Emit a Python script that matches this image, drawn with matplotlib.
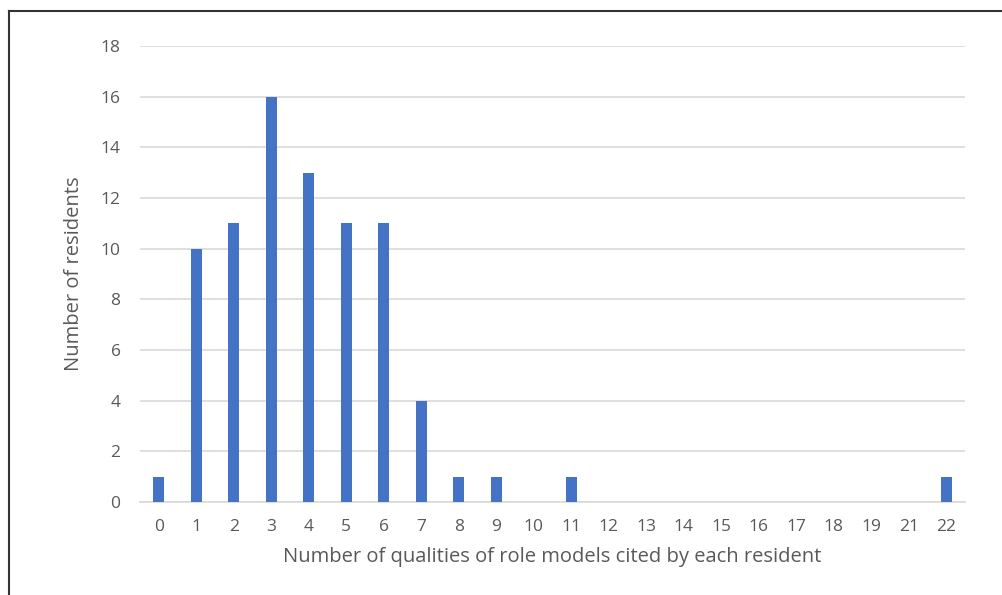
import matplotlib
matplotlib.use("Agg")
import matplotlib.pyplot as plt
from matplotlib.lines import Line2D

# qualities cited (20 is not in the data) and number of residents
qualities = ["0", "1", "2", "3", "4", "5", "6", "7", "8", "9", "10", "11",
             "12", "13", "14", "15", "16", "17", "18", "19", "21", "22"]
residents = [1, 10, 11, 16, 13, 11, 11, 4, 1, 1, 0, 1,
             0, 0, 0, 0, 0, 0, 0, 0, 0, 1]

plt.rcParams['font.family'] = ['Open Sans', 'DejaVu Sans']
grey = '#595959'

fig = plt.figure(figsize=(10.03, 5.95), dpi=100)
ax = fig.add_axes([0.1396, 0.1563, 0.8224, 0.7664])

xs = range(len(qualities))
ax.bar(xs, residents, width=0.3, color='#4472C4', zorder=3)

ax.set_xlim(-0.5, len(qualities) - 0.5)
ax.set_ylim(0, 18)
ax.set_yticks(range(0, 19, 2))
ax.set_xticks(list(xs))
ax.set_xticklabels(qualities)
ax.grid(axis='y', color='#D9D9D9', linewidth=1.2, zorder=0)
for s in ['top', 'right', 'left']:
    ax.spines[s].set_visible(False)
ax.spines['bottom'].set_color('#D9D9D9')
ax.spines['bottom'].set_linewidth(1.2)
ax.tick_params(axis='both', length=0, labelsize=12.5, colors=grey)
ax.tick_params(axis='x', pad=12)
ax.tick_params(axis='y', pad=14)

ax.set_xlabel("Number of qualities of role models cited by each resident",
              fontsize=14.5, color=grey, labelpad=9)
ax.set_ylabel("Number of residents", fontsize=14.5, color=grey, labelpad=12)

# frame of the original figure (left and top edges)
fig.add_artist(Line2D([0.0085, 0.0085], [0, 0.982], color='#333333', linewidth=1.5, transform=fig.transFigure))
fig.add_artist(Line2D([0.0085, 1.0], [0.982, 0.982], color='#333333', linewidth=1.5, transform=fig.transFigure))

fig.savefig("out.png", dpi=100)
